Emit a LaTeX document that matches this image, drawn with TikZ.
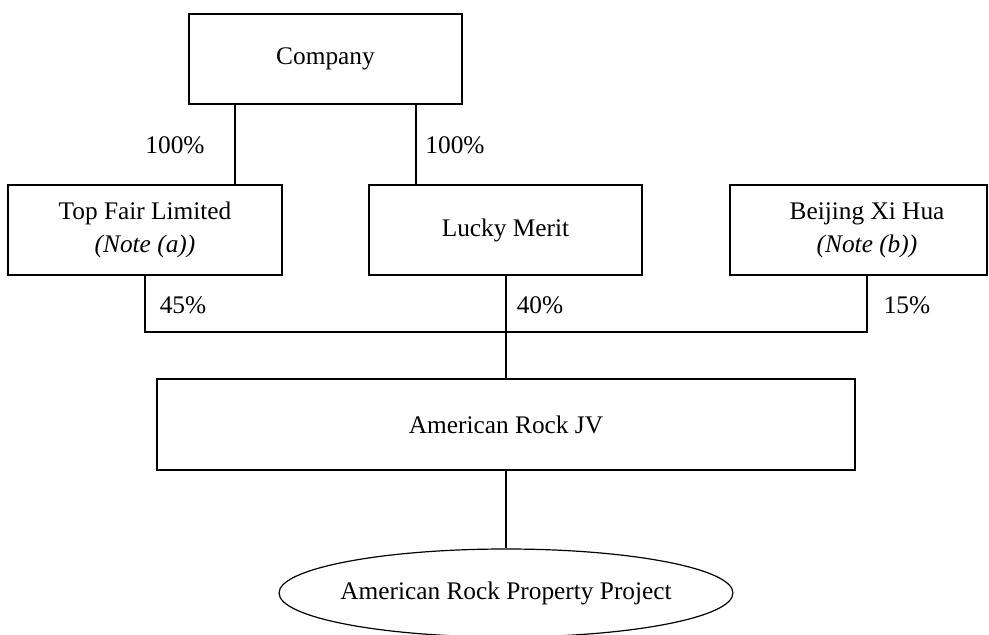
\documentclass[tikz,border=0pt]{standalone}
\usepackage{fontspec}
\setmainfont{Liberation Serif}
\usetikzlibrary{shapes.geometric}
\begin{document}
\begin{tikzpicture}[x=0.75pt,y=-0.75pt,
  every node/.style={font=\fontsize{19}{24.75}\selectfont},
  box/.style={draw,line width=0.9pt,inner sep=0pt,align=center,minimum height=67.5pt},
  lbl/.style={inner sep=0pt},
  conn/.style={line width=0.9pt}]
\useasboundingbox (0,0) rectangle (989,635);
\node[box,minimum width=204.75pt] (company) at (325.5,59) {Company};
\node[box,minimum width=205.5pt] (topfair) at (145,230) {Top Fair Limited\\\textit{(Note (a))}};
\node[box,minimum width=204.75pt] (lucky) at (505.5,230) {Lucky Merit};
\node[box,minimum width=192.75pt] (bj) at (858.5,230) {};
\node[lbl,align=center] (bjt) at (867,230) {Beijing Xi Hua\\\textit{(Note (b))}};
\node[box,minimum width=523.5pt,minimum height=68.25pt] (jv) at (506,424.5) {American Rock JV};
\node[draw,ellipse,line width=0.9pt,inner sep=0pt,minimum width=340.5pt,minimum height=66pt] (proj) at (506,593) {};
\node[lbl] (projt) at (506,593) {American Rock Property Project};

\coordinate (busL) at (145,332);
\coordinate (busR) at (867,332);
\draw[conn] (company.south -| 235,0) -- (topfair.north -| 235,0);
\draw[conn] (company.south -| 416,0) -- (lucky.north -| 416,0);
\draw[conn] (topfair.south) -- (busL) -- (busR) -- (bj.south -| busR);
\draw[conn] (lucky.south -| 506,0) -- (jv.north);
\draw[conn] (jv.south) -- (proj.north);

\node[lbl] (p1) at (175,145) {100\%};
\node[lbl] (p2) at (455,145) {100\%};
\node[lbl] (p3) at (183,305) {45\%};
\node[lbl] (p4) at (540,305) {40\%};
\node[lbl] (p5) at (907,305) {15\%};
\end{tikzpicture}
\end{document}
